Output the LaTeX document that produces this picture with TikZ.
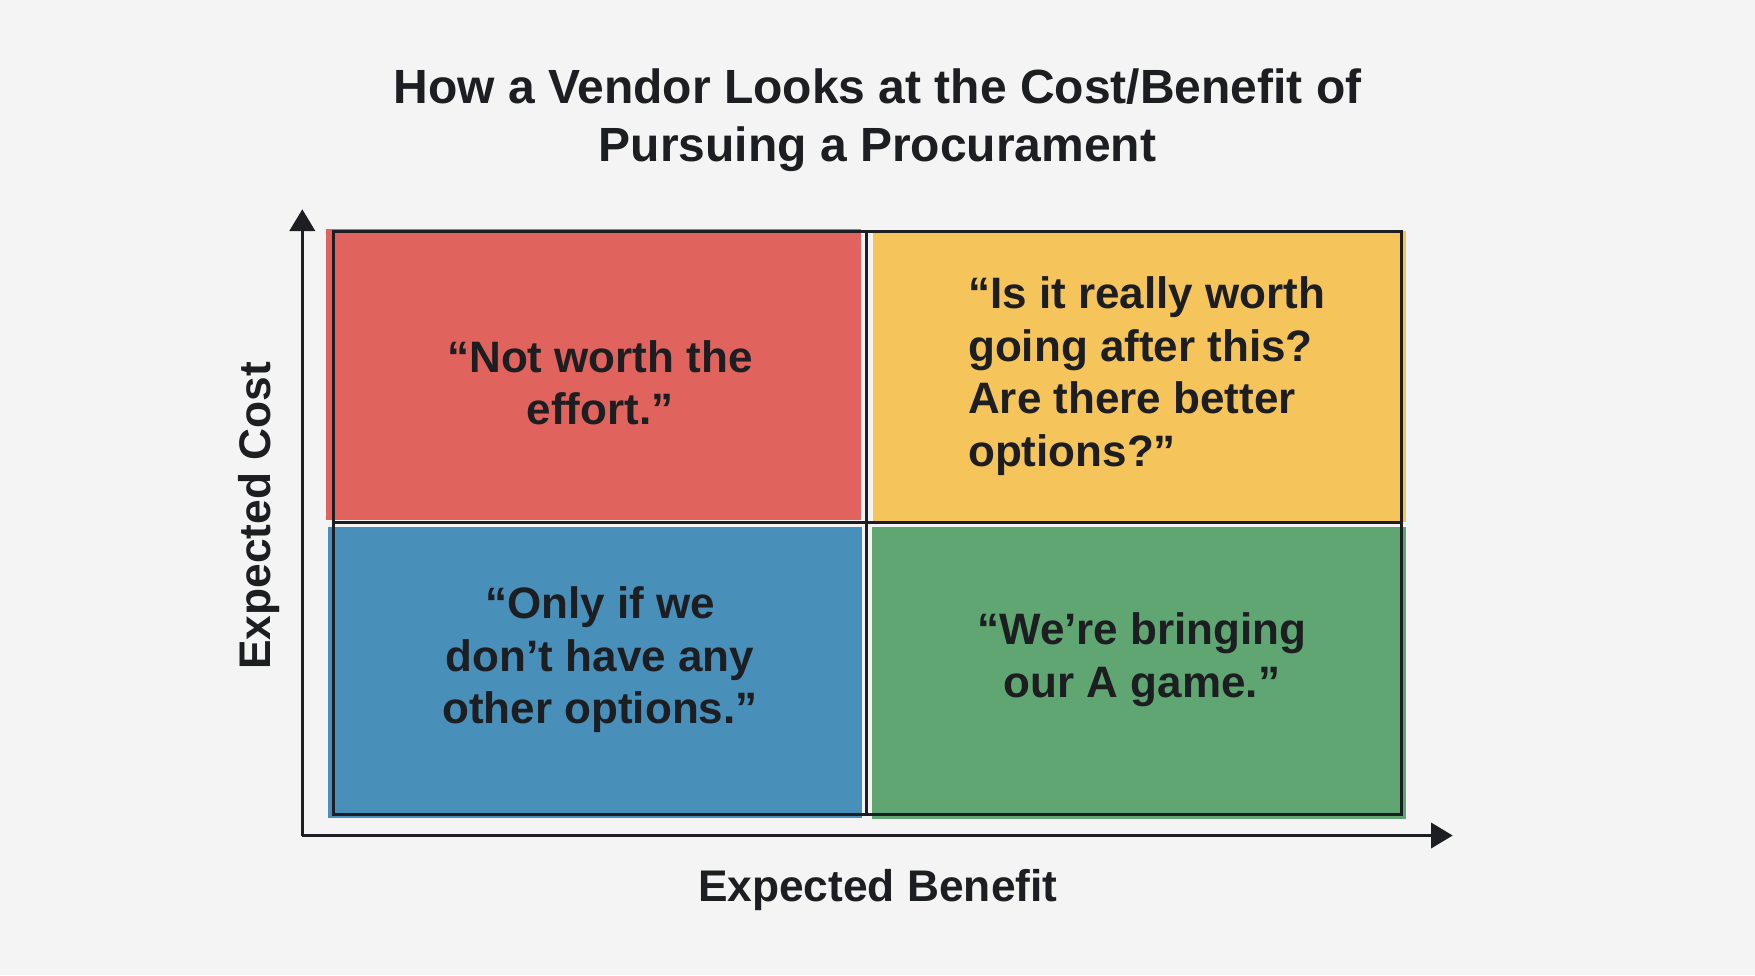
\documentclass[tikz,border=0pt]{standalone}
\usepackage{fontspec}
\setmainfont{Liberation Sans}
\usetikzlibrary{arrows.meta}
\definecolor{bgc}{HTML}{F4F4F4}
\definecolor{ink}{HTML}{1D1E22}
\definecolor{qred}{HTML}{E0635D}
\definecolor{qyellow}{HTML}{F5C45B}
\definecolor{qblue}{HTML}{488FBA}
\definecolor{qgreen}{HTML}{60A672}
\tikzset{
  quadtext/.style={inner sep=0pt, text=ink, font=\bfseries\fontsize{44pt}{52.6pt}\selectfont},
  titletext/.style={inner sep=0pt, text=ink, align=center, font=\bfseries\fontsize{48pt}{58.4pt}\selectfont},
  axislabel/.style={inner sep=0pt, text=ink, font=\bfseries\fontsize{44.3pt}{53pt}\selectfont},
  gridline/.style={draw=ink, line width=2.6pt},
  axisline/.style={draw=ink, line width=2.6pt, line join=miter, -{Triangle[length=21.7pt,width=25.4pt]}}
}
\begin{document}
\begin{tikzpicture}[x=1pt,y=-1pt]
\useasboundingbox (0,0) rectangle (1755,975);
\fill[bgc] (0,0) rectangle (1755,975);
% quadrant fills
\fill[qred] (326.3,229) rectangle (860.6,520);
\fill[qyellow] (872.5,230.7) rectangle (1406.4,521.7);
\fill[qblue] (328,526.8) rectangle (861.7,818.3);
\fill[qgreen] (871.8,527.3) rectangle (1406.3,819);
% grid outline
\draw[gridline] (333.3,231.3) rectangle (1401.3,814.3);
\coordinate (mt) at (866.7,231.3);
\coordinate (mb) at (866.7,814.3);
\coordinate (ml) at (333.3,522.5);
\coordinate (mr) at (1401.3,522.5);
\draw[gridline] (mt) -- (mb);
\draw[gridline] (ml) -- (mr);
% axes
\coordinate (O) at (302.3,835.5);
\coordinate (ytip) at (302.3,209.3);
\coordinate (xtip) at (1452.7,835.5);
\draw[axisline] (O) -- (ytip);
\draw[axisline] (O) -- (xtip);
% texts
\node[titletext] (title) at (877.5,120) {How a Vendor Looks at the Cost/Benefit of\\Pursuing a Procurament};
\node[quadtext, align=center] (qtl) at (600,382.7) {“Not worth the\\effort.”};
\node[quadtext, align=left, anchor=west] (qtr) at (968,376) {“Is it really worth\\going after this?\\Are there better\\options?”};
\node[quadtext, align=center] (qbl) at (600,660) {“Only if we\\don’t have any\\other options.”};
\node[quadtext, align=center] (qbr) at (1142,660) {“We’re bringing\\our A game.”};
\node[axislabel, rotate=90, anchor=base] (ylab) at (270.7,516) {Expected Cost};
\node[axislabel, anchor=base] (xlab) at (877.8,901) {Expected Benefit};
\end{tikzpicture}
\end{document}
